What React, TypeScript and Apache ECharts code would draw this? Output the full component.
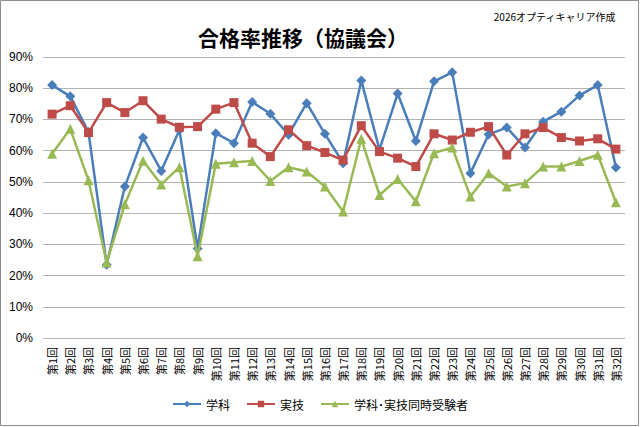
import React, { useEffect, useRef } from "react";
import * as echarts from "echarts";

const categories = Array.from({ length: 32 }, (_, i) => `第${i + 1}回`);
const gakka = [81, 77.4, 66, 23.5, 48.5, 64.2, 53.5, 66.6, 28.7, 65.6, 62.4, 75.6, 71.8, 65.1, 75.2, 65.4, 56, 82.5, 60.3, 78.3, 63.1, 82.2, 85.1, 52.8, 65.2, 67.4, 61, 69.3, 72.5, 77.7, 81, 54.6];
const jitsugi = [71.7, 74.4, 65.8, 75.4, 72.2, 76, 70.1, 67.5, 67.7, 73.3, 75.4, 62.4, 58.1, 66.7, 61.6, 59.4, 57, 68, 59.7, 57.6, 54.9, 65.4, 63.4, 65.9, 67.7, 58.6, 65.4, 67.4, 64.2, 63.1, 63.8, 60.5];
const doji = [59, 67, 50.5, 24.2, 42.8, 56.8, 49.2, 54.7, 26.2, 55.8, 56.3, 56.7, 50.3, 54.7, 53.3, 48.5, 40.5, 63.8, 45.8, 50.9, 43.8, 59.2, 61, 45.3, 52.8, 48.5, 49.6, 54.9, 54.9, 56.7, 58.7, 43.5];
const seriesNames = ["学科", "実技", "学科･実技同時受験者"];

const FONT = "'Noto Sans CJK JP', 'Noto Sans', sans-serif";
const NUMFONT = "'Liberation Sans', 'Noto Sans CJK JP', sans-serif";

export default function App() {
  const ref = useRef<HTMLDivElement>(null);
  useEffect(() => {
    document.body.style.margin = "0";
    const chart = echarts.init(ref.current!, null, { renderer: "svg" });
    chart.setOption({
      animation: false,
      backgroundColor: "#ffffff",
      textStyle: { fontFamily: FONT },
      title: [
        {
          text: "合格率推移（協議会）",
          left: 193,
          top: 21,
          textStyle: { fontSize: 21, fontWeight: "bold", color: "#000", fontFamily: FONT },
        },
        {
          text: "2026オプティキャリア作成",
          right: 19,
          top: 6,
          textStyle: { fontSize: 10, fontWeight: "normal", color: "#000", fontFamily: FONT },
        },
      ],
      graphic: [
        {
          type: "rect",
          shape: { x: 0.5, y: 0.5, width: 638, height: 425 },
          style: { fill: "none", stroke: "#8c8c8c", lineWidth: 1 },
          silent: true,
        },
      ],
      legend: {
        bottom: 12,
        left: "center",
        itemWidth: 28,
        itemHeight: 8,
        itemGap: 16,
        textStyle: { fontSize: 12, color: "#000", fontFamily: FONT },
        data: seriesNames,
      },
      grid: { left: 43, right: 15, top: 57, bottom: 89, containLabel: false },
      xAxis: {
        type: "category",
        data: categories,
        boundaryGap: true,
        axisLine: { show: false },
        axisTick: { show: false },
        axisLabel: { rotate: 90, fontSize: 11, color: "#000", interval: 0, margin: 9, fontFamily: FONT },
      },
      yAxis: {
        type: "value",
        min: 0,
        max: 90,
        interval: 10,
        axisLine: { show: false },
        axisTick: { show: false },
        splitLine: { lineStyle: { color: "#b3b3b3", width: 1 } },
        axisLabel: { formatter: "{value}%", fontSize: 12, color: "#000", margin: 10, fontFamily: NUMFONT },
      },
      series: [
        {
          name: seriesNames[0],
          type: "line",
          data: gakka,
          symbol: "diamond",
          symbolSize: 10,
          itemStyle: { color: "#4A7EBB" },
          lineStyle: { width: 2.5, color: "#4A7EBB" },
          z: 3,
        },
        {
          name: seriesNames[1],
          type: "line",
          data: jitsugi,
          symbol: "rect",
          symbolSize: 9,
          itemStyle: { color: "#BE4B48" },
          lineStyle: { width: 2.5, color: "#BE4B48" },
          z: 4,
        },
        {
          name: seriesNames[2],
          type: "line",
          data: doji,
          symbol: "triangle",
          symbolSize: 10,
          itemStyle: { color: "#98B954" },
          lineStyle: { width: 2.5, color: "#98B954" },
          z: 5,
        },
      ],
    });
    return () => chart.dispose();
  }, []);
  return <div ref={ref} style={{ width: 640, height: 427 }} />;
}
